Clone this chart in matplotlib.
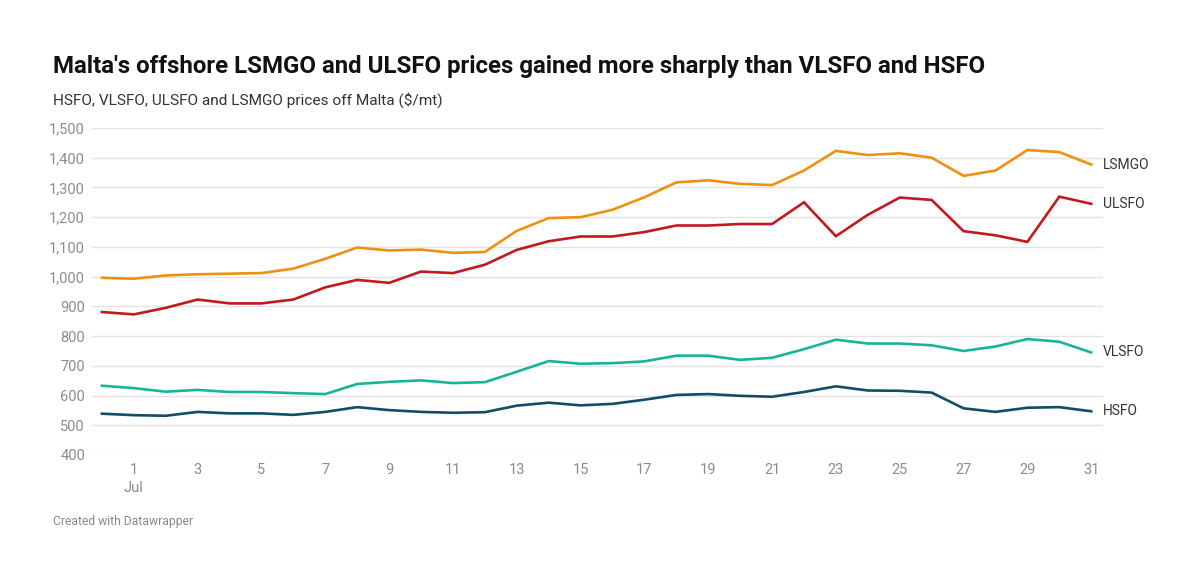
import matplotlib.pyplot as plt
import numpy as np

plt.rcParams['font.family'] = ['Roboto', 'DejaVu Sans']

days = np.arange(0, 32)  # 0 = 30 Jun, 1..31 = July

lsmgo = [996, 993, 1004, 1008, 1010, 1012, 1027, 1060, 1098, 1088, 1091, 1080, 1083, 1154, 1197,
         1200, 1225, 1267, 1317, 1324, 1312, 1308, 1357, 1423, 1409, 1415, 1400, 1339, 1357, 1426, 1419, 1377]
ulsfo = [881, 873, 895, 923, 910, 910, 923, 964, 989, 979, 1017, 1012, 1040, 1090, 1119,
         1135, 1135, 1150, 1172, 1172, 1177, 1177, 1250, 1136, 1208, 1266, 1258, 1153, 1139, 1117, 1269, 1245]
vlsfo = [633, 625, 613, 619, 612, 612, 608, 605, 639, 646, 651, 642, 645, 680, 716,
         707, 709, 715, 734, 734, 720, 727, 756, 788, 775, 775, 769, 750, 765, 790, 781, 745]
hsfo = [539, 534, 532, 545, 540, 540, 535, 545, 561, 551, 545, 542, 544, 566, 576,
        567, 572, 586, 602, 605, 599, 596, 612, 631, 617, 616, 610, 557, 545, 559, 561, 547]

series = [
    ('LSMGO', lsmgo, '#f0900f'),
    ('ULSFO', ulsfo, '#c1191f'),
    ('VLSFO', vlsfo, '#17b596'),
    ('HSFO', hsfo, '#0f4e69'),
]

yticks = np.arange(400, 1501, 100)
xticks = np.arange(1, 32, 2)

fig = plt.figure(figsize=(12, 5.82), dpi=100)
ax = fig.add_axes([92 / 1200, 1 - 455 / 582, (1103 - 92) / 1200, (455 - 128) / 582])

for name, vals, col in series:
    ax.plot(days, vals, color=col, lw=1.9, solid_joinstyle='miter')
    ax.text(31.37, vals[-1], name, fontsize=10, color='#333333', va='center', ha='left')

ax.set_xlim(-0.31, 31.37)
ax.set_ylim(400, 1500)
ax.set_yticks(yticks)
ax.set_yticklabels([f'{v:,}' for v in yticks])
ax.set_xticks(xticks)
ax.set_xticklabels(['1\nJul'] + [str(d) for d in xticks[1:]], linespacing=1.35)
ax.grid(axis='y', color='#e3e3e3', lw=1)
ax.set_axisbelow(True)
for s in ax.spines.values():
    s.set_visible(False)
ax.tick_params(axis='both', length=0, colors='#8c8c8c', labelsize=10.5)
ax.tick_params(axis='y', pad=5)
ax.tick_params(axis='x', pad=6)
for lbl in ax.get_xticklabels():
    lbl.set_verticalalignment('top')

fig.text(53 / 1200, 1 - 66 / 582, "Malta's offshore LSMGO and ULSFO prices gained more sharply than VLSFO and HSFO",
         fontsize=17.3, fontweight='bold', color='#111111', va='center', ha='left')
fig.text(53 / 1200, 1 - 100 / 582, 'HSFO, VLSFO, ULSFO and LSMGO prices off Malta ($/mt)',
         fontsize=11.1, color='#333333', va='center', ha='left')
fig.text(53 / 1200, 1 - 522 / 582, 'Created with Datawrapper',
         fontsize=8.7, color='#888888', va='center', ha='left')

fig.savefig('out.png', dpi=100, facecolor='white')
